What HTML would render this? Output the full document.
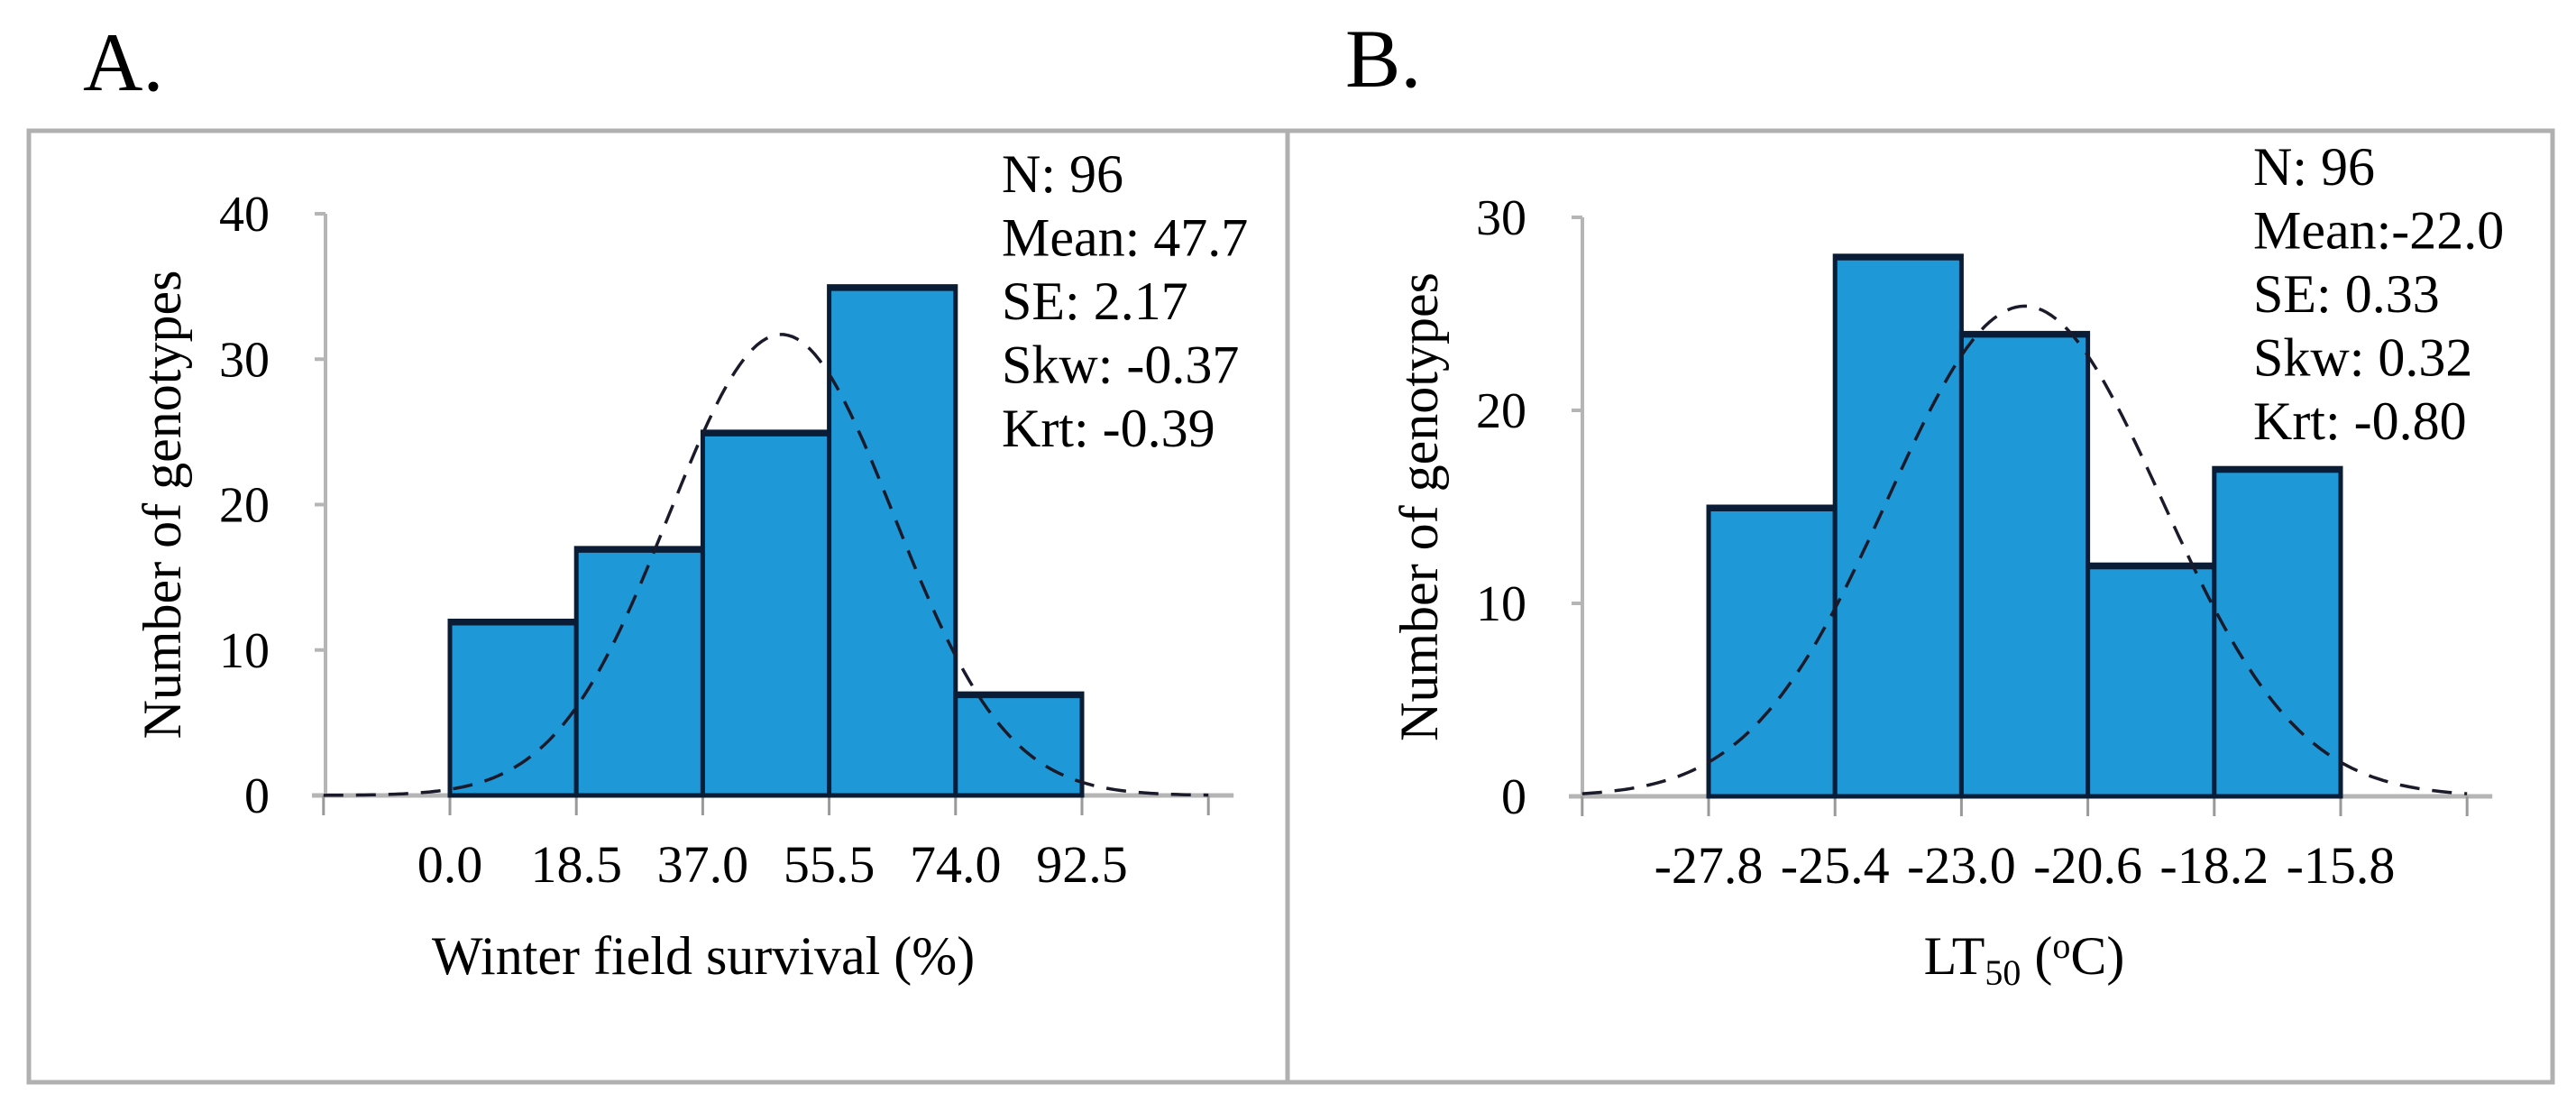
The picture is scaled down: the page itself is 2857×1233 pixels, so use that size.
<!DOCTYPE html>
<html><head><meta charset="utf-8"><style>
html,body{margin:0;padding:0;background:#fff;}
svg{display:block;font-family:"Liberation Serif",serif;}
</style></head><body>
<svg id="chart" width="2857" height="1233" viewBox="0 0 2857 1233" xmlns="http://www.w3.org/2000/svg">
<text x="92" y="100" font-size="92">A.</text>
<text x="1492" y="96" font-size="92">B.</text>
<rect x="32" y="145" width="1396" height="1055" fill="none" stroke="#b0b0b0" stroke-width="5"/>
<rect x="1428" y="145" width="1403" height="1055" fill="none" stroke="#b0b0b0" stroke-width="5"/>
<g id="pa"></g>
<g id="pb"></g>
</svg>
<script>
const aEdges = [0.0, 18.5, 37.0, 55.5, 74.0, 92.5];
const aCounts = [12, 17, 25, 35, 7];
const aTicksY = [0, 10, 20, 30, 40];
const aStats = ["N: 96", "Mean: 47.7", "SE: 2.17", "Skw: -0.37", "Krt: -0.39"];
const aCurve = {mean: 48.5, sd: 16.5, peak: 31.7};
const bEdges = [-27.8, -25.4, -23.0, -20.6, -18.2, -15.8];
const bCounts = [15, 28, 24, 12, 17];
const bTicksY = [0, 10, 20, 30];
const bStats = ["N: 96", "Mean:-22.0", "SE: 0.33", "Skw: 0.32", "Krt: -0.80"];
const bCurve = {mean: -21.8, sd: 2.6, peak: 25.4};
const NS = "http://www.w3.org/2000/svg";
function mk(g, tag, attrs, text){const e=document.createElementNS(NS,tag);for(const k in attrs)e.setAttribute(k,attrs[k]);if(text!==undefined)e.textContent=text;g.appendChild(e);return e;}

function panel(gid, edges, counts, ticksY, stats, curve, cfg){
  const g=document.getElementById(gid);
  const bw=edges[1]-edges[0];
  const lo=edges[0]-bw, hi=edges[edges.length-1]+bw;
  const x=v=>cfg.x0+(v-edges[0])/bw*cfg.binPx;
  const ymax=ticksY[ticksY.length-1];
  const y=v=>cfg.yBase-(v/ymax)*(cfg.yBase-cfg.yTop);
  let e=mk(g,'line',{x1:cfg.axisX,y1:y(ymax),x2:cfg.axisX,y2:cfg.yBase,stroke:'#b5b5b5','stroke-width':4});
  
  
  ticksY.forEach(t=>{
    let l=mk(g,'line',{x1:cfg.axisX-12,y1:y(t),x2:cfg.axisX,y2:y(t),stroke:'#b5b5b5','stroke-width':4});
    
    
    let tx=mk(g,'text',{x:cfg.axisX-62,y:y(t)+19,'font-size':56,'text-anchor':'end'},String(t));
    
    
  });
  e=mk(g,'line',{x1:cfg.axisX-15,y1:cfg.yBase,x2:x(hi)+28,y2:cfg.yBase,stroke:'#b5b5b5','stroke-width':5});
  
  
  [lo,...edges,hi].forEach(v=>{
    let l=mk(g,'line',{x1:x(v),y1:cfg.yBase,x2:x(v),y2:cfg.yBase+22,stroke:'#999','stroke-width':3});
    
    
  });
  edges.forEach(v=>{
    let t=mk(g,'text',{x:x(v),y:cfg.yBase+96,'font-size':58,'text-anchor':'middle'},v.toFixed(1));
    
    
  });
  counts.forEach((c,i)=>{
    let r=mk(g,'rect',{x:x(edges[i]),y:y(c),width:x(edges[i+1])-x(edges[i]),height:cfg.yBase-y(c),fill:'#1e98d6',stroke:'#0a1c36','stroke-width':5});
    
    
    let tp=mk(g,'line',{x1:x(edges[i]),y1:y(c)+2,x2:x(edges[i+1]),y2:y(c)+2,stroke:'#0a1c36','stroke-width':6});
    
    
  });
  let d='';
  for(let k=0;k<=200;k++){const v=lo+(hi-lo)*k/200;const c=curve.peak*Math.exp(-Math.pow(v-curve.mean,2)/(2*curve.sd*curve.sd));d+=(k?'L':'M')+x(v).toFixed(1)+','+y(c).toFixed(1);}
  e=mk(g,'path',{d:d,fill:'none',stroke:'#1a1a2a','stroke-width':3.5,'stroke-dasharray':'22,14'});
  
  
  e=mk(g,'text',{transform:`translate(${cfg.ytitleX},${(y(ymax)+cfg.yBase)/2}) rotate(-90)`,'font-size':60,'text-anchor':'middle'},'Number of genotypes');
  
  
  return {g,x,y};
}

const A=panel('pa',aEdges,aCounts,aTicksY,aStats,aCurve,{x0:499,binPx:140.2,yBase:882,yTop:237,axisX:361,ytitleX:200});
const B=panel('pb',bEdges,bCounts,bTicksY,bStats,bCurve,{x0:1895,binPx:140.2,yBase:883,yTop:241,axisX:1755,ytitleX:1594});

let t=mk(A.g,'text',{x:780,y:1080,'font-size':60,'text-anchor':'middle'},'Winter field survival (%)');


t=mk(B.g,'text',{x:2245,y:1080,'font-size':60,'text-anchor':'middle'});


t.innerHTML='LT<tspan font-size="40" dy="12">50</tspan><tspan dy="-12"> (</tspan><tspan font-size="40" dy="-18">o</tspan><tspan dy="18">C)</tspan>';

function statsBlock(g,x0,y0,lines){
  lines.forEach((s,i)=>{
    const e=mk(g,'text',{x:x0,y:y0+i*70.5,'font-size':60},s);
    
    
  });
}
statsBlock(A.g,1111,213,aStats);
statsBlock(B.g,2499,205,bStats);
</script>
</body></html>
